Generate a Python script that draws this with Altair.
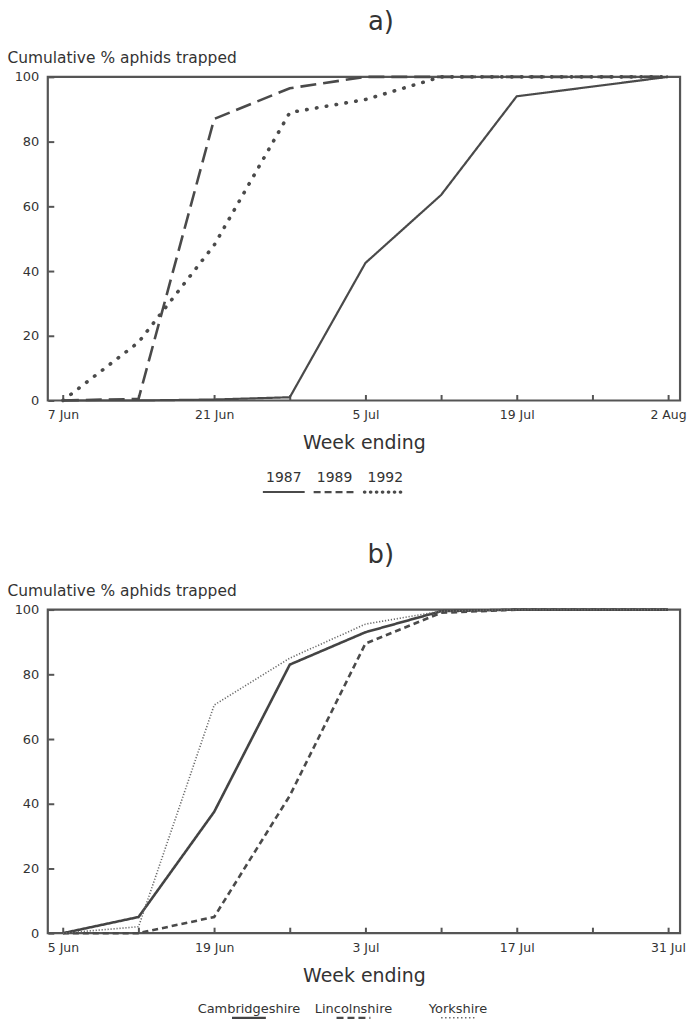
import json
import altair as alt
import pandas as pd

# ---------------- data ----------------
weeks_a = ["7 Jun", "14 Jun", "21 Jun", "28 Jun", "5 Jul", "12 Jul", "19 Jul", "26 Jul", "2 Aug"]
yr1987 = [0, 0, 0.3, 1, 42.5, 63.5, 94, 97, 100]
yr1989 = [0, 0.5, 87, 96.5, 100, 100, 100, 100, 100]
yr1992 = [0, 18, 48, 89, 93, 100, 100, 100, 100]
years = ["1987", "1989", "1992"]

weeks_b = ["5 Jun", "12 Jun", "19 Jun", "26 Jun", "3 Jul", "10 Jul", "17 Jul", "24 Jul", "31 Jul"]
cambs = [0, 5, 37.5, 83, 93, 99.5, 100, 100, 100]
lincs = [0, 0, 5, 42.5, 89.5, 99, 100, 100, 100]
yorks = [0, 2, 70.5, 85, 95.5, 99.5, 100, 100, 100]
counties = ["Cambridgeshire", "Lincolnshire", "Yorkshire"]

y_ticks = [0, 20, 40, 60, 80, 100]

FONT = "DejaVu Sans"
TXT = "#333333"
FRAME = "#555555"
W, H = 635, 325


def long_df(labels, names, series):
    rows = []
    for name, vals in zip(names, series):
        for i, v in enumerate(vals):
            rows.append({"week": i, "label": labels[i], "series": name, "pct": v})
    return pd.DataFrame(rows)


df_a = long_df(weeks_a, years, [yr1987, yr1989, yr1992])
df_b = long_df(weeks_b, counties, [cambs, lincs, yorks])

styles_a = {
    "1987": dict(color="#4a4a4a", strokeWidth=2.2, strokeDash=[1, 0], strokeCap="butt",
                 legDash=[1, 0]),
    "1989": dict(color="#4a4a4a", strokeWidth=2.6, strokeDash=[16, 7], strokeCap="butt",
                 legDash=[7, 4]),
    "1992": dict(color="#4a4a4a", strokeWidth=3.6, strokeDash=[0.5, 9.5], strokeCap="round",
                 legDash=[0.5, 5.5]),
}
styles_b = {
    "Cambridgeshire": dict(color="#444444", strokeWidth=2.6, strokeDash=[1, 0], strokeCap="butt",
                           legDash=[1, 0]),
    "Lincolnshire": dict(color="#4a4a4a", strokeWidth=2.6, strokeDash=[6, 4], strokeCap="butt",
                         legDash=[7, 4]),
    "Yorkshire": dict(color="#6a6a6a", strokeWidth=1.6, strokeDash=[1.2, 1.8], strokeCap="butt",
                      legDash=[1.5, 2.5]),
}


def panel(df, labels, names, styles, title):
    arr = json.dumps(labels)
    xscale = alt.Scale(domain=[-0.2, 8.16], nice=False, zero=False)
    yscale = alt.Scale(domain=[0, 100], nice=False)
    x_main = alt.X(
        "week:Q", scale=xscale,
        axis=alt.Axis(
            values=list(range(9)), ticks=False, domain=False, grid=False,
            labelExpr=f"datum.value % 2 == 0 ? {arr}[datum.value] : ''",
            labelFontSize=12.5, labelFont=FONT, labelColor=TXT, labelPadding=8,
            labelFlush=False,
            title="Week ending", titleFont=FONT, titleFontSize=19,
            titleFontWeight="normal", titleColor=TXT, titlePadding=13,
        ),
    )
    y_main = alt.Y(
        "pct:Q", scale=yscale,
        axis=alt.Axis(
            values=y_ticks, ticks=False, domain=False, grid=False,
            labelFontSize=13, labelFont=FONT, labelColor=TXT, labelPadding=9,
            title="Cumulative % aphids trapped", titleFont=FONT, titleFontSize=15.5,
            titleFontWeight="normal", titleColor=TXT, titleAngle=0,
            titleAlign="left", titleBaseline="alphabetic", titleX=-41, titleY=-14,
        ),
    )
    layers = []
    first = True
    for name in names:
        st = styles[name]
        ch = alt.Chart(df).transform_filter(alt.datum.series == name).mark_line(
            color=st["color"], strokeWidth=st["strokeWidth"],
            strokeDash=st["strokeDash"], strokeCap=st["strokeCap"], clip=False,
        ).encode(
            x=x_main if first else alt.X("week:Q", scale=xscale, axis=None),
            y=y_main if first else alt.Y("pct:Q", scale=yscale, axis=None),
            order="week:Q",
        )
        first = False
        layers.append(ch)
    # inward tick marks drawn with secondary axes placed on the frame
    ticks = alt.Chart(df).mark_point(opacity=0).encode(
        x=alt.X("week:Q", scale=xscale, axis=alt.Axis(
            orient="top", offset=-H, values=list(range(9)), labels=False,
            tickSize=6, tickWidth=2, tickColor=FRAME, domain=False, grid=False, title=None)),
        y=alt.Y("pct:Q", scale=yscale, axis=alt.Axis(
            orient="right", offset=-W, values=y_ticks, labels=False,
            tickSize=6, tickWidth=2, tickColor=FRAME, domain=False, grid=False, title=None)),
    )
    layers.append(ticks)
    return alt.layer(*layers).resolve_axis(x="independent", y="independent").properties(
        width=W, height=H,
        title=alt.TitleParams(title, fontSize=26, font=FONT, fontWeight="normal",
                              color=TXT, anchor="middle", frame="group", dx=17, offset=16),
        view=alt.ViewBackground(stroke=FRAME, strokeWidth=2.2),
    )


def legend(names, styles, rng, font_size, half, height, text_y, line_y):
    ldf = pd.DataFrame({"name": names})
    xs = alt.Scale(type="point", domain=names, range=rng, padding=0)
    text = alt.Chart(ldf).mark_text(
        fontSize=font_size, font=FONT, color=TXT, baseline="middle"
    ).encode(x=alt.X("name:N", scale=xs, axis=None), y=alt.value(text_y), text="name:N")
    layers = [text]
    for name in names:
        st = styles[name]
        layers.append(
            alt.Chart(ldf).transform_filter(alt.datum.name == name).mark_rule(
                color=st["color"], strokeWidth=st["strokeWidth"] * 0.9,
                strokeDash=st["legDash"], strokeCap=st["strokeCap"],
                xOffset=-half, x2Offset=half,
            ).encode(x=alt.X("name:N", scale=xs, axis=None), x2="name:N", y=alt.value(line_y))
        )
    return alt.layer(*layers).properties(
        width=W, height=height, view=alt.ViewBackground(stroke="transparent")
    )


pa = panel(df_a, weeks_a, years, styles_a, "a)")
la = legend(years, styles_a, [237, 339], 14, 21, 74, 18, 32)
pb = panel(df_b, weeks_b, counties, styles_b, "b)")
lb = legend(counties, styles_b, [202, 412], 13, 17, 28, 16, 25)

chart = alt.vconcat(pa, la, pb, lb, spacing=5).configure_view(stroke="transparent")

chart.save("out.html", embed_options={"renderer": "svg", "actions": False})
